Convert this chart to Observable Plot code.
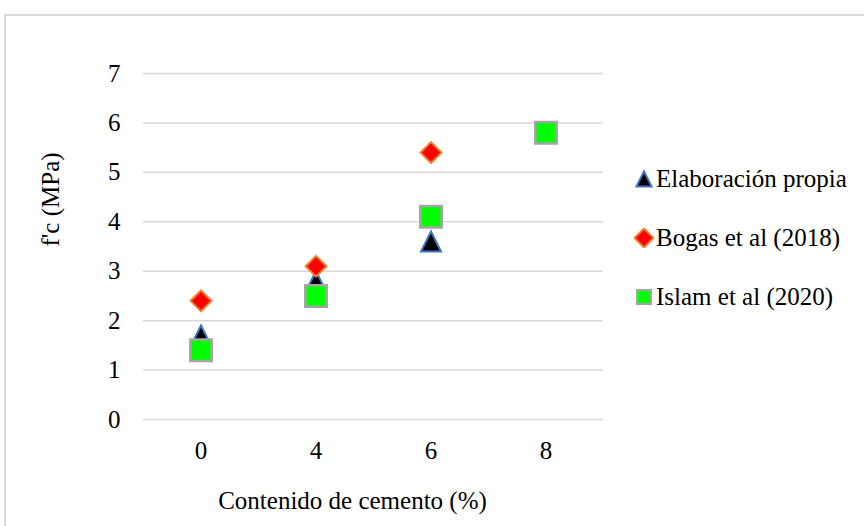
<!DOCTYPE html>
<html>
<head>
<meta charset="utf-8">
<script src="https://cdn.jsdelivr.net/npm/d3@7"></script>
<script src="https://cdn.jsdelivr.net/npm/@observablehq/plot@0.6"></script>
<style>
  html, body { margin: 0; padding: 0; background: #fff; overflow: hidden; }
  #wrap { position: relative; width: 864px; height: 526px; font-family: 'Liberation Serif', 'Times New Roman', Times, serif; }
  #frame { position: absolute; left: 4px; top: 14px; width: 900px; height: 600px; border: 2px solid #d9d9d9; box-sizing: border-box; pointer-events: none; }
  #legend { position: absolute; left: 634px; top: 0; font-size: 25px; color: #000; font-family: 'Liberation Serif', 'Times New Roman', Times, serif; }
  .row { position: absolute; left: 0; display: flex; align-items: center; white-space: nowrap; height: 30px; }
  .row svg { margin-right: 2px; }
  #chart svg text { font-family: 'Liberation Serif', 'Times New Roman', Times, serif; }
</style>
</head>
<body>
<div id="wrap">
  <div id="chart"></div>
  <div id="legend"></div>
  <div id="frame"></div>
</div>
<script>
// ---- data ----
const categories = ["0", "4", "6", "8"];
const seriesNames = ["Elaboración propia", "Bogas et al (2018)", "Islam et al (2020)"];
const elaboracion = [1.7, 2.8, 3.6, null];
const bogas = [2.4, 3.1, 5.4, null];
const islam = [1.4, 2.5, 4.1, 5.8];
const yTicks = [0, 1, 2, 3, 4, 5, 6, 7];
const xTitle = "Contenido de cemento (%)";
const yTitle = "f'c (MPa)";

// custom isosceles triangle (width = height), centred on its bounding box
const tri = {
  draw(ctx, size) {
    const s = Math.sqrt(size);
    ctx.moveTo(0, -s / 2);
    ctx.lineTo(s / 2, s / 2);
    ctx.lineTo(-s / 2, s / 2);
    ctx.closePath();
  }
};

const styles = [
  {symbol: tri, fill: "#000000", stroke: "#4472c4", r: 11.3, sw: 2},
  {symbol: "diamond2", fill: "#ff0000", stroke: "#f08030", r: 9.4, sw: 2},
  {symbol: "square", fill: "#00ff00", stroke: "#a5a5a5", r: 12.1, sw: 2.5}
];
const seriesValues = [elaboracion, bogas, islam];

const rows = [];
seriesValues.forEach((vals, s) => {
  vals.forEach((v, i) => {
    if (v != null) rows.push({series: seriesNames[s], x: categories[i], y: v});
  });
});

const serif = "'Liberation Serif', 'Times New Roman', Times, serif";

const marks = [
  Plot.gridY(yTicks, {stroke: "#d9d9d9", strokeOpacity: 1, strokeWidth: 1.5}),
  Plot.axisY(yTicks, {tickSize: 0, tickPadding: 23, fontSize: 25, label: null}),
  Plot.axisX({tickSize: 0, tickPadding: 22, fontSize: 25, label: null}),
  ...seriesNames.map((name, s) => Plot.dot(rows.filter(d => d.series === name), {
    x: "x", y: "y",
    symbol: () => styles[s].symbol,
    r: styles[s].r,
    fill: styles[s].fill,
    stroke: styles[s].stroke,
    strokeWidth: styles[s].sw
  })),
  Plot.text([xTitle], {frameAnchor: "bottom", dy: 89, dx: -21, fontSize: 25, text: d => d}),
  Plot.text([yTitle], {frameAnchor: "left", dx: -93, rotate: -90, fontSize: 25, text: d => d})
];

const chart = Plot.plot({
  width: 864,
  height: 526,
  marginLeft: 143,
  marginRight: 261,
  marginTop: 73,
  marginBottom: 107,
  style: {fontFamily: serif, background: "#fff", color: "#000", overflow: "visible"},
  x: {type: "band", domain: categories, padding: 0},
  y: {domain: [0, 7]},
  symbol: {type: "identity"},
  marks
});
document.getElementById("chart").appendChild(chart);

// ---- legend ----
const legend = d3.select("#legend");
const rowCentres = [179, 238, 297];
seriesNames.forEach((name, s) => {
  const row = legend.append("div").attr("class", "row").style("top", (rowCentres[s] - 15) + "px");
  const svg = row.append("svg").attr("width", 20).attr("height", 20);
  const sym = styles[s].symbol === tri ? tri : (styles[s].symbol === "diamond2" ? d3.symbolDiamond2 : d3.symbolSquare);
  const size = styles[s].symbol === "square" ? 200 : 230;
  svg.append("path")
    .attr("transform", "translate(10,10)")
    .attr("d", d3.symbol(sym, size)())
    .attr("fill", styles[s].fill)
    .attr("stroke", styles[s].stroke)
    .attr("stroke-width", 2);
  row.append("span").text(name);
});
</script>
</body>
</html>
